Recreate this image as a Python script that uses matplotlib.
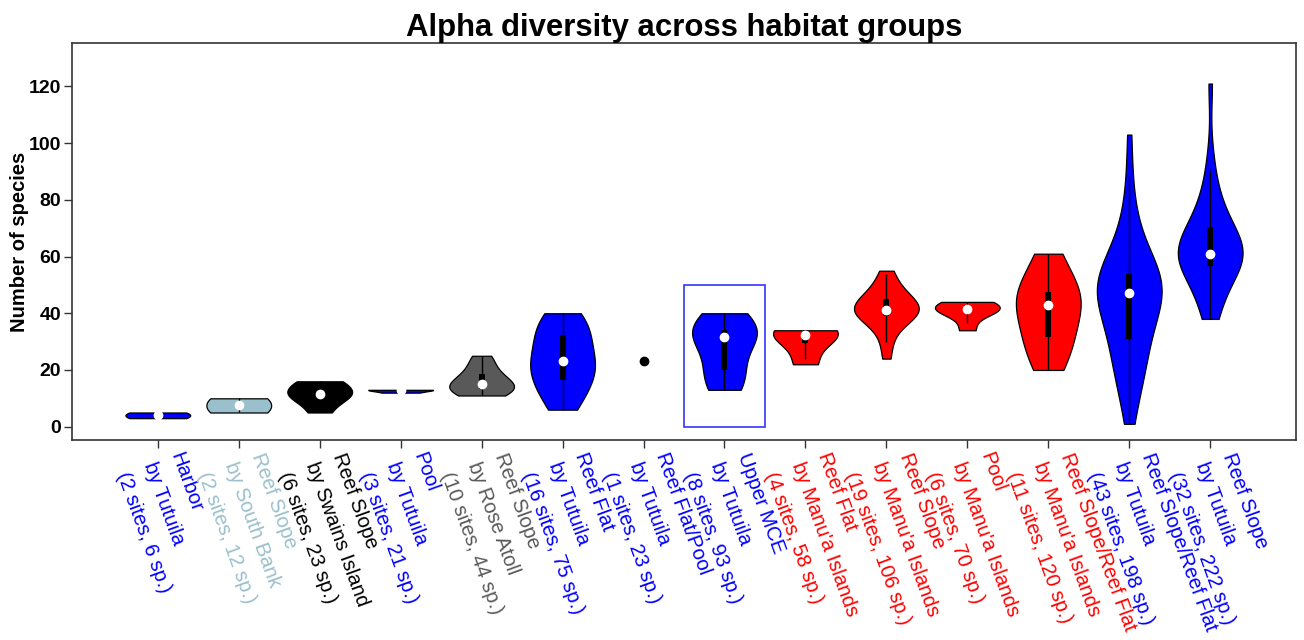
import numpy as np
import matplotlib
matplotlib.use("Agg")
import matplotlib.pyplot as plt
from matplotlib.patches import Rectangle
from matplotlib.transforms import ScaledTranslation

plt.rcParams['font.family'] = ['Liberation Sans', 'DejaVu Sans']

# ---- categories / labels ----
habitats = ["Harbor", "Reef Slope", "Reef Slope", "Pool", "Reef Slope", "Reef Flat",
            "Reef Flat/Pool", "Upper MCE", "Reef Flat", "Reef Slope", "Pool",
            "Reef Slope/Reef Flat", "Reef Slope/Reef Flat", "Reef Slope"]
regions = ["Tutuila", "South Bank", "Swains Island", "Tutuila", "Rose Atoll", "Tutuila",
           "Tutuila", "Tutuila", "Manu'a Islands", "Manu'a Islands", "Manu'a Islands",
           "Manu'a Islands", "Tutuila", "Tutuila"]
n_sites = [2, 2, 6, 3, 10, 16, 1, 8, 4, 19, 6, 11, 43, 32]
n_species = [6, 12, 23, 21, 44, 75, 23, 93, 58, 106, 70, 120, 198, 222]
group_colors = ["#0000FF", "#9AC0CD", "#000000", "#0000FF", "#595959", "#0000FF",
                "#0000FF", "#0000FF", "#FF0000", "#FF0000", "#FF0000", "#FF0000",
                "#0000FF", "#0000FF"]

# ---- per-site species richness (estimated from the figure) ----
harbor_tutuila = [3, 5]
reefslope_southbank = [5, 10]
reefslope_swains = [5, 10, 11, 12, 15, 16]
pool_tutuila = [12, 13, 13]
reefslope_rose = [11, 12, 13, 14, 14, 16, 17, 19, 22, 25]
reefflat_tutuila = [6, 9, 12, 15, 17, 19, 21, 22, 24, 26, 29, 32, 34, 36, 38, 40]
reefflatpool_tutuila = [23]
uppermce_tutuila = [13, 17, 21, 31, 32, 34, 35, 40]
reefflat_manua = [22, 32, 33, 34]
reefslope_manua = [24, 30, 34, 37, 39, 39, 40, 40, 41, 41, 42, 43, 44, 45, 45, 47, 49, 52, 55]
pool_manua = [34, 40, 41, 42, 43, 44]
slopeflat_manua = [20, 25, 30, 33, 38, 43, 45, 47, 48, 55, 61]
slopeflat_tutuila = [1, 8, 12, 15, 18, 20, 22, 24, 26, 28, 30, 32,
                     34, 36, 38, 39, 40, 42, 43, 44, 46, 47,
                     48, 48, 49, 50, 50, 51, 52, 52, 53, 54, 54,
                     56, 58, 60, 62, 65, 68, 72, 78, 88, 103]
reefslope_tutuila = [38, 40, 43, 46, 49, 52, 54, 56, 57, 58, 59, 59, 60, 60, 61, 61,
                     61, 62, 63, 64, 65, 67, 68, 70, 71, 73, 75, 78, 82, 86, 95, 121]

groups = [harbor_tutuila, reefslope_southbank, reefslope_swains, pool_tutuila,
          reefslope_rose, reefflat_tutuila, reefflatpool_tutuila, uppermce_tutuila,
          reefflat_manua, reefslope_manua, pool_manua, slopeflat_manua,
          slopeflat_tutuila, reefslope_tutuila]

highlight_group = 7       # index of the boxed group (Upper MCE)
highlight_top = 50

labels = [f"{h}\nby {r}\n({n} sites, {s} sp.)"
          for h, r, n, s in zip(habitats, regions, n_sites, n_species)]

fig = plt.figure(figsize=(13.04, 6.4), dpi=100)
ax = fig.add_axes([72/1304, 1-440/640, (1296-72)/1304, (440-43)/640])

positions = np.arange(1, len(groups) + 1)

multi = [i for i, g in enumerate(groups) if len(g) > 1]
bw = lambda k: 1.059 * k.num_dp ** (-0.2)
parts = ax.violinplot([np.asarray(groups[i], float) for i in multi],
                      positions=[positions[i] for i in multi], widths=0.8,
                      showextrema=False, showmeans=False, showmedians=False,
                      bw_method=bw, points=200)
for body, i in zip(parts['bodies'], multi):
    body.set_facecolor(group_colors[i])
    body.set_edgecolor('black')
    body.set_linewidth(0.9)
    body.set_alpha(1)
    body.set_zorder(2)

for i, g in enumerate(groups):
    x = positions[i]
    d = np.asarray(g, float)
    if len(d) == 1:
        ax.plot([x], [d[0]], 'o', color='black', ms=6, zorder=5)
        continue
    q1, med, q3 = np.percentile(d, [25, 50, 75])
    iqr = q3 - q1
    lo = max(q1 - 1.5 * iqr, d.min())
    hi = min(q3 + 1.5 * iqr, d.max())
    ax.vlines(x, lo, hi, color='black', lw=1.0, zorder=3)
    ax.vlines(x, q1, q3, color='black', lw=4.3, zorder=4, capstyle='butt')
    ax.plot([x], [med], 'o', color='white', mec='white', ms=6, zorder=5)

hx = positions[highlight_group]
ax.add_patch(Rectangle((hx - 0.5, 0), 1.0, highlight_top, fill=False,
                       edgecolor='#3535ff', lw=1.2, zorder=1))

ax.set_xlim(positions[0] - 1.06, positions[-1] + 1.06)
ax.set_ylim(-4.7, 135.3)
ax.set_yticks([0, 20, 40, 60, 80, 100, 120])
ax.tick_params(axis='both', direction='out', length=5.8, width=1.0, color='#333333')
ax.tick_params(axis='x', pad=1.5)
ax.tick_params(axis='y', pad=2)
for lab in ax.get_yticklabels():
    lab.set_fontweight('bold')
    lab.set_fontsize(14)
ax.set_ylabel("Number of species", fontsize=14.5, fontweight='bold', labelpad=0)

ax.set_xticks(positions)
ax.set_xticklabels(labels, rotation=-70, ha='left', va='top',
                   rotation_mode='anchor', fontsize=14.6, linespacing=1.65)
offset = ScaledTranslation(0.27, 0, fig.dpi_scale_trans)
for lab, c in zip(ax.get_xticklabels(), group_colors):
    lab.set_color(c)
    lab.set_transform(lab.get_transform() + offset)

for sp in ax.spines.values():
    sp.set_color('#333333')
    sp.set_linewidth(1.2)

ax.set_title("Alpha diversity across habitat groups", fontsize=22.4,
             fontweight='bold', pad=2)

fig.savefig("out.png", dpi=100)
